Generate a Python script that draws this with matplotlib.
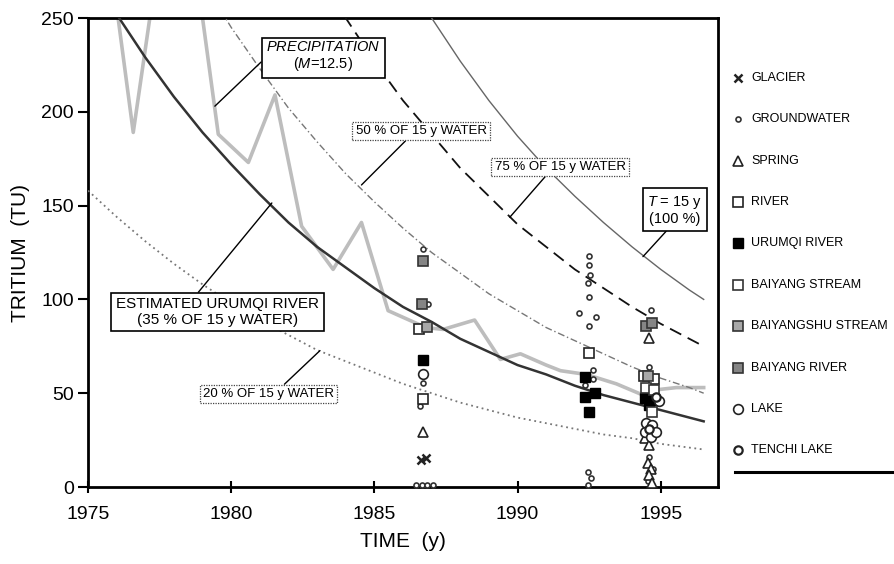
import numpy as np
import matplotlib.pyplot as plt
from matplotlib.lines import Line2D

plt.rcParams['font.family'] = ['Liberation Sans', 'DejaVu Sans']
plt.rcParams['mathtext.fontset'] = 'custom'
plt.rcParams['mathtext.rm'] = 'Liberation Sans'
plt.rcParams['mathtext.it'] = 'Liberation Sans:italic'

# model curves (TU), values above 250 are off the chart
curve_years = [1975, 1976, 1977, 1978, 1979, 1980, 1981, 1982, 1983, 1984, 1985, 1986,
               1987, 1988, 1989, 1990, 1991, 1992, 1993, 1994, 1995, 1996, 1996.5]
tu_100 = [791, 719, 653, 593, 539, 490, 445, 404, 367, 333, 303, 275,
          250, 227, 206, 187, 170, 155, 141, 128, 116, 105, 100]
tu_75 = [593, 539, 490, 445, 404, 368, 334, 303, 275, 250, 227, 206,
         188, 170, 155, 140, 128, 116, 106, 96, 87, 79, 75]
tu_50 = [396, 360, 327, 297, 270, 245, 223, 202, 184, 167, 152, 138,
         125, 114, 103, 94, 85, 78, 71, 64, 58, 53, 50]
tu_35 = [277, 252, 229, 208, 189, 172, 156, 141, 128, 117, 106, 96,
         88, 79, 72, 65, 60, 54, 49, 45, 41, 37, 35]
tu_20 = [158, 144, 131, 119, 108, 98, 89, 81, 73, 67, 61, 55,
         50, 45, 41, 37, 34, 31, 28, 26, 23, 21, 20]

# precipitation input (M=12.5)
precip_years = [1975.8, 1976.58, 1977.5, 1978.0, 1978.6, 1979.55, 1980.6, 1981.53,
                1982.46, 1983.56, 1984.55, 1985.48, 1986.8, 1987.4, 1988.5, 1989.4,
                1990.1, 1991.0, 1991.5, 1992.4, 1993.45, 1994.38, 1994.96, 1995.55, 1996.5]
precip_tu = [279, 189, 286, 320, 295, 188, 173, 209, 139, 116, 141, 94, 85, 84, 89, 68,
             71, 65, 62, 60, 55, 49, 52, 53, 53]

# samples
glacier_x = [1986.62, 1986.8]
glacier_y = [14.4, 15.3]
groundwater_x = [1986.7, 1986.86, 1986.7, 1986.6, 1986.45, 1986.65, 1986.85, 1987.05,
                 1992.5, 1992.5, 1992.53, 1992.45, 1992.5, 1992.15, 1992.75, 1992.5,
                 1992.62, 1992.62, 1992.35, 1992.45, 1992.55, 1992.45,
                 1994.65, 1994.6, 1994.6, 1994.72, 1994.55, 1994.7]
groundwater_y = [126.7, 97.5, 55.6, 43.2, 1, 1, 1, 1,
                 123.1, 118.3, 113, 108.6, 101.4, 92.6, 90.8, 85.8,
                 62.4, 57.4, 54.4, 8, 5, 1,
                 94.3, 63.8, 15.8, 9.5, 3, 0.8]
spring_x = [1986.7, 1994.6, 1994.45, 1994.6, 1994.55, 1994.65, 1994.6, 1994.7]
spring_y = [29.5, 79.3, 26, 22.4, 12.6, 9.4, 6.4, 2]
river_x = [1986.55, 1986.7, 1992.5, 1994.4, 1994.75]
river_y = [84.2, 46.7, 71.6, 59.2, 57.5]
urumqi_x = [1986.7, 1992.35, 1992.7, 1992.35, 1992.5, 1994.45, 1994.7, 1994.6]
urumqi_y = [67.7, 58.8, 50, 48.1, 40.1, 47.3, 46.4, 43.7]
bstream_x = [1994.5, 1994.75, 1994.7]
bstream_y = [52.8, 51.9, 40.1]
bshu_x = [1994.55, 1986.85]
bshu_y = [59.2, 85.1]
briver_x = [1986.7, 1986.65, 1994.5, 1994.7]
briver_y = [120.5, 97.5, 85.8, 87.6]
lake_x = [1986.7, 1994.95, 1994.5, 1994.7, 1994.45, 1994.65, 1994.82]
lake_y = [60.2, 46, 33.9, 33, 29.5, 26.8, 29.5]
tenchi_x = [1994.85, 1994.6]
tenchi_y = [48.1, 31]

fig = plt.figure(figsize=(8.94, 5.64), dpi=100)
ax = fig.add_axes([88 / 894, 1 - 487 / 564, 630 / 894, 469 / 564])

ax.plot(precip_years, precip_tu, color='#bdbdbd', lw=2.6, zorder=2)
ax.plot(curve_years, tu_100, color='#666666', lw=1.0, zorder=3)
ax.plot(curve_years, tu_75, color='#111111', lw=1.3, ls=(0, (7, 4)), zorder=3)
ax.plot(curve_years, tu_50, color='#777777', lw=1.0, ls=(0, (5, 2, 1, 2)), zorder=3)
ax.plot(curve_years, tu_35, color='#333333', lw=1.8, zorder=3)
ax.plot(curve_years, tu_20, color='#777777', lw=1.3, ls=(0, (1, 2)), zorder=3)

styles = {
    'GLACIER': dict(marker='x', ms=6, mew=1.8, color='#222222', ls='none'),
    'GROUNDWATER': dict(marker='o', ms=3.6, mfc='white', mec='#333333', mew=1.2, ls='none'),
    'SPRING': dict(marker='^', ms=6.5, mfc='white', mec='#222222', mew=1.2, ls='none'),
    'RIVER': dict(marker='s', ms=6.5, mfc='white', mec='#222222', mew=1.2, ls='none'),
    'URUMQI RIVER': dict(marker='s', ms=6.5, mfc='black', mec='black', mew=1.0, ls='none'),
    'BAIYANG STREAM': dict(marker='s', ms=6.5, mfc='white', mec='#333333', mew=1.2, ls='none'),
    'BAIYANGSHU STREAM': dict(marker='s', ms=6.5, mfc='#a8a8a8', mec='#333333', mew=1.2, ls='none'),
    'BAIYANG RIVER': dict(marker='s', ms=6.5, mfc='#858585', mec='#333333', mew=1.2, ls='none'),
    'LAKE': dict(marker='o', ms=7, mfc='white', mec='#222222', mew=1.2, ls='none'),
    'TENCHI LAKE': dict(marker='o', ms=6, mfc='white', mec='#222222', mew=1.6, ls='none'),
}
samples = {
    'GLACIER': (glacier_x, glacier_y),
    'GROUNDWATER': (groundwater_x, groundwater_y),
    'SPRING': (spring_x, spring_y),
    'RIVER': (river_x, river_y),
    'URUMQI RIVER': (urumqi_x, urumqi_y),
    'BAIYANG STREAM': (bstream_x, bstream_y),
    'BAIYANGSHU STREAM': (bshu_x, bshu_y),
    'BAIYANG RIVER': (briver_x, briver_y),
    'LAKE': (lake_x, lake_y),
    'TENCHI LAKE': (tenchi_x, tenchi_y),
}
for name, (xs, ys) in samples.items():
    ax.plot(xs, ys, zorder=4, clip_on=False, **styles[name])

ax.set_xlim(1975, 1997)
ax.set_ylim(0, 250)
ax.set_xticks([1975, 1980, 1985, 1990, 1995])
ax.set_yticks([0, 50, 100, 150, 200, 250])
for s in ax.spines.values():
    s.set_linewidth(2)
ax.tick_params(axis='y', direction='out', length=7, width=1.5, pad=3, labelsize=14)
ax.tick_params(axis='x', direction='inout', length=8, width=1.5, pad=10, labelsize=14)
ax.set_xlabel('TIME  (y)', fontsize=15, labelpad=6)
ax.set_ylabel('TRITIUM  (TU)', fontsize=15, labelpad=8)

solid_box = dict(boxstyle='square,pad=0.3', fc='white', ec='black', lw=1.2)
dot_box = dict(boxstyle='square,pad=0.25', fc='white', ec='#444444', lw=0.9, ls=(0, (1, 1)))
line = dict(arrowstyle='-', color='black', lw=1.0, shrinkA=0, shrinkB=0)

ax.annotate('ESTIMATED URUMQI RIVER\n(35 % OF 15 y WATER)', xy=(1981.42, 151.4),
            xytext=(1979.52, 93.3), ha='center', va='center', fontsize=11,
            linespacing=1.1, bbox=solid_box, arrowprops=dict(line, relpos=(0.385, 1)),
            zorder=5)
ax.annotate(r'$\mathit{PRECIPITATION}$' + '\n(' + r'$\mathit{M}$' + '=12.5)',
            xy=(1979.43, 203), xytext=(1983.21, 229.4), ha='center', va='center',
            fontsize=10.5, linespacing=1.1, bbox=solid_box,
            arrowprops=dict(line, relpos=(0.0, 0.48)), zorder=5)
ax.annotate('50 % OF 15 y WATER', xy=(1984.55, 161), xytext=(1986.63, 189.7),
            ha='center', va='center', fontsize=9.5, bbox=dot_box,
            arrowprops=dict(line, relpos=(0.41, 0)), zorder=5)
ax.annotate('75 % OF 15 y WATER', xy=(1989.73, 143.8), xytext=(1991.49, 170.6),
            ha='center', va='center', fontsize=9.5, bbox=dot_box,
            arrowprops=dict(line, relpos=(0.41, 0)), zorder=5)
ax.annotate(r'$\mathit{T}$' + ' = 15 y\n(100 %)', xy=(1994.38, 122.8),
            xytext=(1995.5, 147.5), ha='center', va='center', fontsize=10.5,
            linespacing=1.1, bbox=solid_box, arrowprops=dict(line, relpos=(0.42, 0)),
            zorder=5)
ax.annotate('20 % OF 15 y WATER', xy=(1983.1, 72.7), xytext=(1981.31, 49.6),
            ha='center', va='center', fontsize=9.5, bbox=dot_box,
            arrowprops=dict(line, relpos=(0.59, 1)), zorder=5)

# legend drawn in its own panel to the right of the plot
lax = fig.add_axes([730 / 894, 1 - 471 / 564, 164 / 894, 414 / 564])
lax.set_xlim(0, 164)
lax.set_ylim(9.5, -0.5)
lax.axis('off')
for i, name in enumerate(styles):
    lax.plot([8], [i], clip_on=False, **styles[name])
    lax.text(21, i, name, fontsize=9, va='center', ha='left')
fig.add_artist(Line2D([735 / 894, 1.0], [1 - 472 / 564] * 2, color='black', lw=2.2))

fig.savefig('out.png', dpi=100)
